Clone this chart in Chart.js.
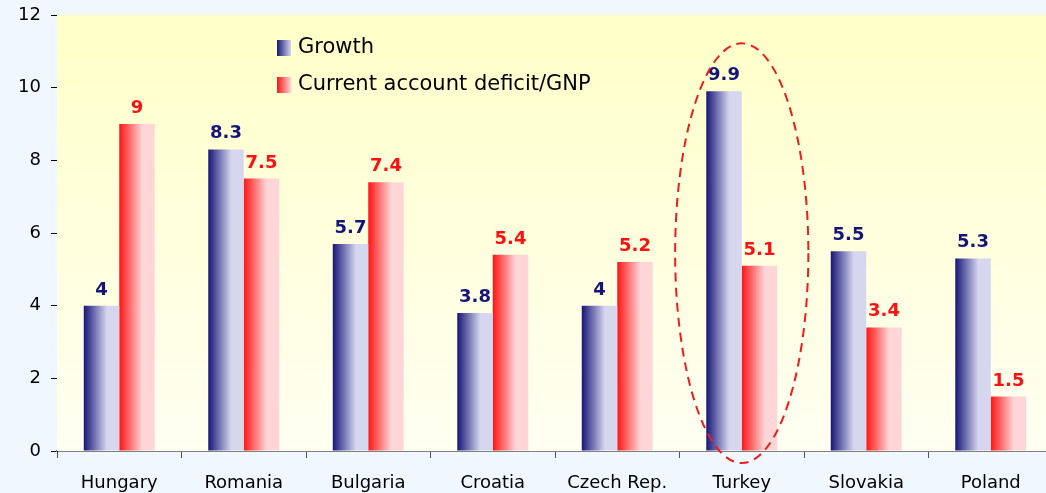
<!DOCTYPE html>
<html>
<head>
<meta charset="utf-8">
<script src="https://cdn.jsdelivr.net/npm/chart.js@4"></script>
<style>
  html, body { margin: 0; padding: 0; background: #f0f7ff; overflow: hidden; }
  #wrap { position: absolute; left: 0; top: 0; width: 1060px; height: 493px; }
</style>
</head>
<body>
<div id="wrap"><canvas id="myChart"></canvas></div>
<script>
const countries = ['Hungary', 'Romania', 'Bulgaria', 'Croatia', 'Czech Rep.', 'Turkey', 'Slovakia', 'Poland'];
const growth = [4, 8.3, 5.7, 3.8, 4, 9.9, 5.5, 5.3];
const deficit = [9, 7.5, 7.4, 5.4, 5.2, 5.1, 3.4, 1.5];
const yTicks = [0, 2, 4, 6, 8, 10, 12];

// dashed ellipse drawn round one country
const circled = 'Turkey';
const ellipseTop = 11.22;
const ellipseBottom = -0.33;
const ellipseHalfWidth = 0.535; // in categories

const FONT = 'DejaVu Sans';
const catPct = 0.57;

const barFill = (dark, light) => ctx => {
  const chart = ctx.chart, x = chart.scales.x;
  if (!x || !chart.chartArea || ctx.dataIndex == null) return light;
  const w = (x.right - x.left) / countries.length * catPct / 2;
  const c = x.getPixelForValue(ctx.dataIndex) + (ctx.datasetIndex === 0 ? -w / 2 : w / 2);
  const g = chart.ctx.createLinearGradient(c - w / 2, 0, c + w / 2, 0);
  g.addColorStop(0, dark);
  g.addColorStop(0.65, light);
  g.addColorStop(1, light);
  return g;
};

const plotBg = {
  id: 'plotBg',
  beforeDatasetsDraw(chart) {
    const { ctx, chartArea: a } = chart;
    const g = ctx.createLinearGradient(0, a.top, 0, a.bottom);
    g.addColorStop(0, '#ffffc8');
    g.addColorStop(1, '#fffff2');
    ctx.save();
    ctx.fillStyle = g;
    ctx.fillRect(a.left, a.top, a.right - a.left, a.bottom - a.top);
    ctx.restore();
  }
};

const valueLabels = {
  id: 'valueLabels',
  afterDatasetsDraw(chart) {
    const ctx = chart.ctx;
    ctx.save();
    ctx.font = 'bold 18px ' + FONT;
    ctx.textAlign = 'center';
    ctx.textBaseline = 'alphabetic';
    chart.data.datasets.forEach((ds, i) => {
      ctx.fillStyle = ds.labelColor;
      chart.getDatasetMeta(i).data.forEach((el, j) => {
        ctx.fillText(String(ds.data[j]), el.x, el.y - 11);
      });
    });
    ctx.restore();
  }
};

const ellipse = {
  id: 'ellipse',
  afterDatasetsDraw(chart) {
    const { ctx, scales: { x, y } } = chart;
    const cx = x.getPixelForValue(countries.indexOf(circled));
    const top = y.getPixelForValue(ellipseTop);
    const bottom = y.getPixelForValue(ellipseBottom);
    const rx = ellipseHalfWidth * (x.right - x.left) / countries.length;
    ctx.save();
    ctx.strokeStyle = '#f01c1c';
    ctx.lineWidth = 2;
    ctx.setLineDash([9, 6]);
    ctx.beginPath();
    ctx.ellipse(cx, (top + bottom) / 2, rx, (bottom - top) / 2, 0, 0, Math.PI * 2);
    ctx.stroke();
    ctx.restore();
  }
};

const legendBox = {
  id: 'legendBox',
  afterDraw(chart) {
    const { ctx, chartArea: a } = chart;
    const x0 = a.left + 220;
    ctx.save();
    ctx.font = '21px ' + FONT;
    ctx.textBaseline = 'middle';
    chart.data.datasets.forEach((ds, i) => {
      const yc = a.top + 33 + i * 37;
      const g = ctx.createLinearGradient(x0, 0, x0 + 14, 0);
      g.addColorStop(0, ds.dark);
      g.addColorStop(1, ds.light);
      ctx.fillStyle = g;
      ctx.fillRect(x0, yc - 8, 14, 16);
      ctx.fillStyle = '#000';
      ctx.fillText(ds.label, x0 + 21, yc);
    });
    ctx.restore();
  }
};

const data = {
  labels: countries,
  datasets: [{
    label: 'Growth',
    data: growth,
    dark: '#161678',
    light: '#d6d6ee',
    labelColor: '#14147a',
    backgroundColor: barFill('#161678', '#d6d6ee')
  }, {
    label: 'Current account deficit/GNP',
    data: deficit,
    dark: '#ff1414',
    light: '#ffd6d8',
    labelColor: '#ff1010',
    backgroundColor: barFill('#ff1414', '#ffd6d8')
  }]
};

new Chart(document.getElementById('myChart'), {
  type: 'bar',
  data,
  plugins: [plotBg, valueLabels, ellipse, legendBox],
  options: {
    responsive: true,
    maintainAspectRatio: false,
    animation: false,
    categoryPercentage: catPct,
    barPercentage: 1,
    elements: { bar: { borderWidth: 0, borderColor: 'transparent', inflateAmount: 0 } },
    layout: { padding: { top: 15, right: 7, left: 0, bottom: 0 } },
    plugins: {
      legend: { display: false },
      tooltip: { enabled: false }
    },
    scales: {
      x: {
        grid: { drawOnChartArea: false, tickLength: 7, color: '#555', offset: true },
        border: { color: '#808080', width: 2 },
        ticks: { color: '#000', font: { family: FONT, size: 18 }, padding: 15 },
        afterFit: s => { s.height = 42; s.paddingLeft = 0; s.paddingRight = 0; }
      },
      y: {
        min: 0,
        max: 12,
        afterBuildTicks: s => { s.ticks = yTicks.map(v => ({ value: v })); },
        grid: { drawOnChartArea: false, tickLength: 6, color: '#000' },
        border: { color: '#000', width: 1 },
        ticks: { color: '#000', font: { family: FONT, size: 18 }, padding: 10 },
        afterFit: s => { s.width = 57; s.paddingTop = 0; s.paddingBottom = 0; }
      }
    }
  }
});
</script>
</body>
</html>
